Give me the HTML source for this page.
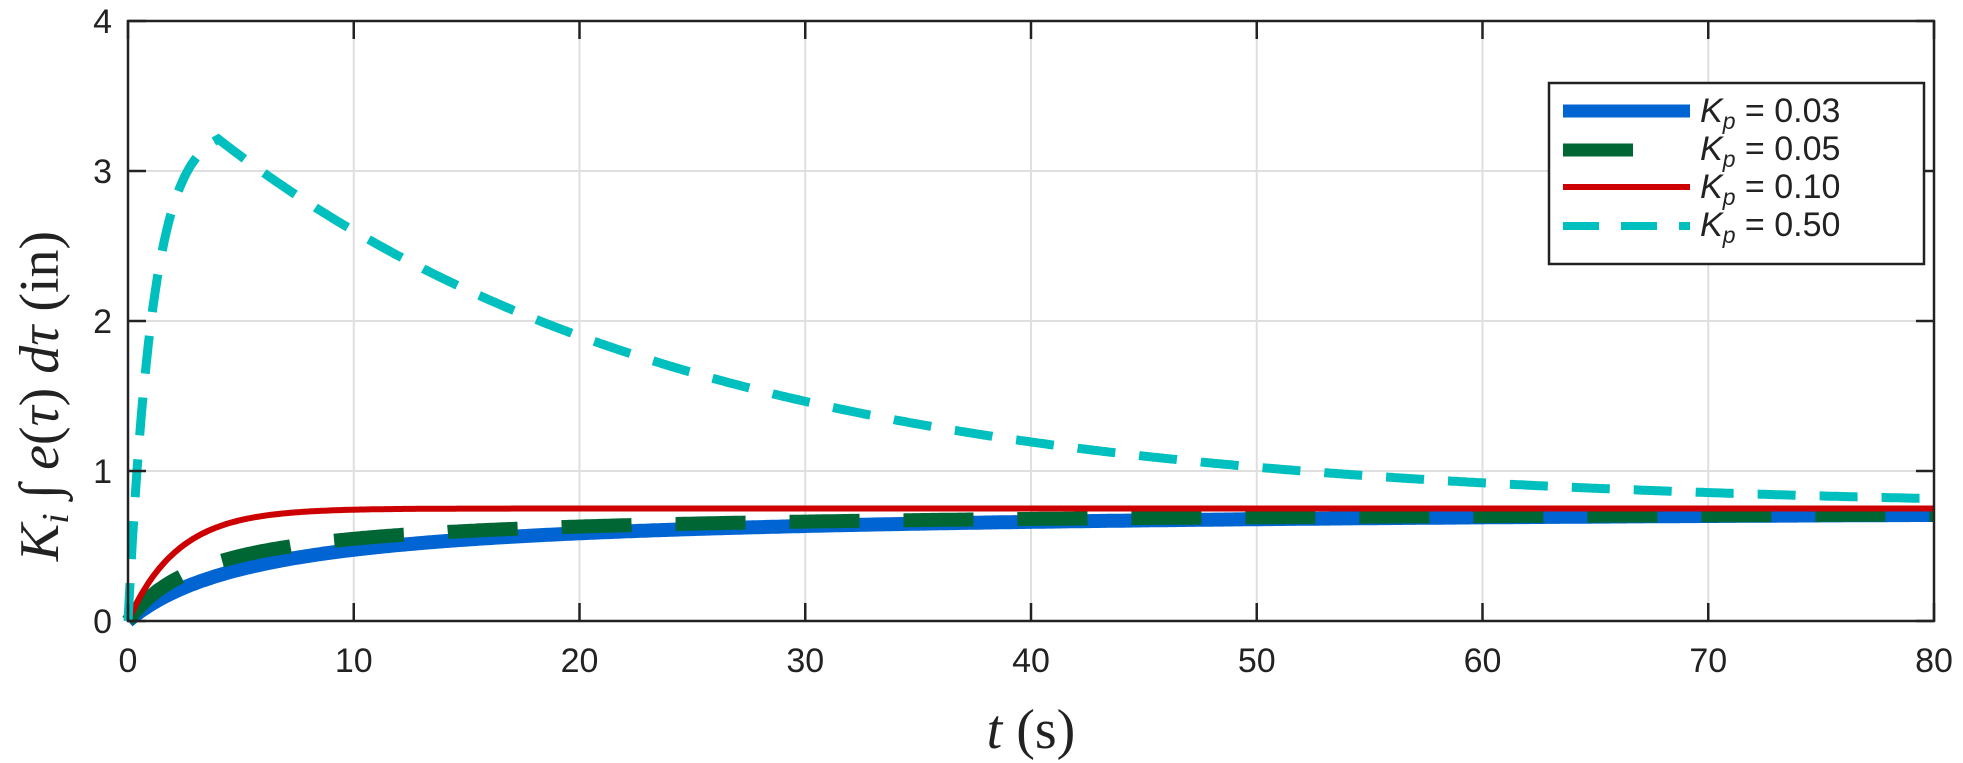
<!DOCTYPE html>
<html><head><meta charset="utf-8"><style>
html,body{margin:0;padding:0;background:#fff;}
svg{display:block;}
text{font-family:"Liberation Sans",sans-serif;}
.m{font-family:"Liberation Serif",serif;}
</style></head><body>
<svg id="s" width="1963" height="763" xmlns="http://www.w3.org/2000/svg">
<g id="grid" stroke="#dfdfdf" stroke-width="2"></g>
<g id="curves" fill="none"></g>
<rect x="128" y="21" width="1806" height="600" fill="none" stroke="#222" stroke-width="2.5"/>
<g id="ticks" stroke="#222" stroke-width="2.5"></g>
<g id="labels" font-size="34" fill="#222"></g>
<text class="m" x="1031" y="748" font-size="56" text-anchor="middle" fill="#222"><tspan font-style="italic">t</tspan> (s)</text>
<text class="m" transform="translate(58,396) rotate(-90)" font-size="56" text-anchor="middle" fill="#222"><tspan font-style="italic">K<tspan font-size="38" dy="10">i</tspan></tspan><tspan dy="-10"> ∫ </tspan><tspan font-style="italic">e</tspan>(<tspan font-style="italic">τ</tspan>) <tspan font-style="italic">dτ</tspan> (in)</text>
<g id="legend">
<rect x="1549" y="83" width="375" height="181" fill="#fff" stroke="#222" stroke-width="2.5"/>
<line x1="1563" y1="111" x2="1690" y2="111" stroke="#0064d2" stroke-width="13"/>
<line x1="1563" y1="150" x2="1633" y2="150" stroke="#006633" stroke-width="13"/>
<line x1="1563" y1="187" x2="1690" y2="187" stroke="#cc0000" stroke-width="6"/>
<line x1="1563" y1="226" x2="1690" y2="226" stroke="#00bfbf" stroke-width="8" stroke-dasharray="36,22"/>
<g class="m" font-size="34" fill="#222">
<text x="1700" y="122"><tspan font-style="italic">K<tspan font-size="23" dy="7">p</tspan></tspan><tspan dy="-7"> = 0.03</tspan></text>
<text x="1700" y="160"><tspan font-style="italic">K<tspan font-size="23" dy="7">p</tspan></tspan><tspan dy="-7"> = 0.05</tspan></text>
<text x="1700" y="198"><tspan font-style="italic">K<tspan font-size="23" dy="7">p</tspan></tspan><tspan dy="-7"> = 0.10</tspan></text>
<text x="1700" y="236"><tspan font-style="italic">K<tspan font-size="23" dy="7">p</tspan></tspan><tspan dy="-7"> = 0.50</tspan></text>
</g></g>
</svg>
<script>
const NS="http://www.w3.org/2000/svg";
const X=t=>128+t*1806/80, Y=v=>621-v*150;
function el(p,tag,a,txt){const e=document.createElementNS(NS,tag);for(const k in a)e.setAttribute(k,a[k]);if(txt!==undefined)e.textContent=txt;document.getElementById(p).appendChild(e);return e;}
for(let i=1;i<8;i++)el("grid","line",{x1:X(i*10),y1:21,x2:X(i*10),y2:621});
for(let j=1;j<4;j++)el("grid","line",{x1:128,y1:Y(j),x2:1934,y2:Y(j)});
for(let i=0;i<=8;i++){el("ticks","line",{x1:X(i*10),y1:621,x2:X(i*10),y2:603});el("ticks","line",{x1:X(i*10),y1:21,x2:X(i*10),y2:39});
 el("labels","text",{x:X(i*10),y:672,"text-anchor":"middle"},String(i*10));}
for(let j=0;j<=4;j++){el("ticks","line",{x1:128,y1:Y(j),x2:146,y2:Y(j)});el("ticks","line",{x1:1934,y1:Y(j),x2:1916,y2:Y(j)});
 el("labels","text",{x:112,y:Y(j)+12,"text-anchor":"end"},String(j));}
function path(f,c,w,d){let s="";for(let t=0;t<=80;t+=0.1){s+=(s?"L":"M")+X(t).toFixed(1)+","+Y(f(t)).toFixed(1);}
 const a={d:s,stroke:c,"stroke-width":w};if(d)a["stroke-dasharray"]=d;el("curves","path",a);}
path(t=>0.76*t/(t+6),"#0064d2",14);
path(t=>0.74*t/(t+3.5),"#006633",14,"70,44");
path(t=>0.75*(1-Math.exp(-t/2.2)),"#cc0000",6);
path(t=>t<=4?3.3*(1-Math.exp(-t/1.1)):0.75+(3.3*(1-Math.exp(-4/1.1))-0.75)*Math.exp(-(t-4)/21),"#00bfbf",9,"38,24");
</script>
</body></html>
